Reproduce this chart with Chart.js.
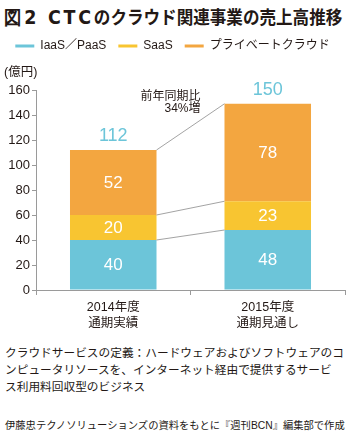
<!DOCTYPE html>
<html>
<head>
<meta charset="utf-8">
<script src="https://cdn.jsdelivr.net/npm/chart.js@4.4.0/dist/chart.umd.min.js"></script>
<style>
  body { margin: 0; background: #fff; }
  #page { position: relative; width: 350px; height: 438px; overflow: hidden;
          font-family: "Liberation Sans", "Noto Sans CJK JP", sans-serif; color: #231815; }
  #title { position: absolute; left: 4px; top: 3px; font-size: 18px; font-weight: bold; white-space: nowrap;
           font-family: "Noto Sans CJK JP", sans-serif; transform: scaleX(0.92); transform-origin: left top; }
  #title .lat { font-family: "DejaVu Sans", sans-serif; font-size: 19px; letter-spacing: 3px; }
  #box { position: absolute; left: 0; top: 28px; width: 350px; height: 312px; }
  .note { position: absolute; left: 5px; white-space: nowrap; }
  #def { top: 344px; font-size: 11.7px; line-height: 17px; }
  #src { top: 417px; font-size: 10.3px; }
</style>
</head>
<body>
<div id="page">
  <div id="title"><span class="lat">図2 CTC</span>のクラウド関連事業の売上高推移</div>
  <div id="box"><canvas id="chart"></canvas></div>
  <div class="note" id="def">クラウドサービスの定義：ハードウェアおよびソフトウェアのコ<br>ンピュータリソースを、インターネット経由で提供するサービ<br>ス利用料回収型のビジネス</div>
  <div class="note" id="src">伊藤忠テクノソリューションズの資料をもとに『週刊BCN』編集部で作成</div>
</div>
<script>
const years = [["2014年度", "通期実績"], ["2015年度", "通期見通し"]];
const seriesNames = ["IaaS／PaaS", "SaaS", "プライベートクラウド"];
const iaasPaas = [40, 48];
const saas = [20, 23];
const privateCloud = [52, 78];
const totals = [112, 150];
const growthNote = ["前年同期比", "34%増"];
const unitLabel = "(億円)";

const BLUE = "#6cc5d9";
const YELLOW = "#f8c531";
const ORANGE = "#f3a640";
const TEXT = "#231815";
const AXIS = "#9a9a9a";
const FONT = '"Liberation Sans", "Noto Sans CJK JP", sans-serif';

// legend box gets extra room underneath for the unit label
const legendGap = {
    id: "legendGap",
    afterInit(chart) {
        const lg = chart.legend;
        if (!lg || lg._gapPatched) return;
        const fit = lg.fit;
        lg.fit = function () {
            fit.call(this);
            this.height += 28;
        };
        lg._gapPatched = true;
    },
};

const overlay = {
    id: "overlay",
    afterDatasetsDraw(chart) {
        const ctx = chart.ctx;
        const y = chart.scales.y;
        const metas = chart.data.datasets.map((d, i) => chart.getDatasetMeta(i));
        ctx.save();

        // connectors between the two bars
        ctx.strokeStyle = "#8c8c8c";
        ctx.lineWidth = 0.8;
        metas.forEach((m) => {
            const a = m.data[0], b = m.data[1];
            ctx.beginPath();
            ctx.moveTo(a.x + a.width / 2, a.y);
            ctx.lineTo(b.x - b.width / 2, b.y);
            ctx.stroke();
        });

        // values inside segments
        ctx.fillStyle = "#fff";
        ctx.font = "17px " + FONT;
        ctx.textAlign = "center";
        ctx.textBaseline = "middle";
        metas.forEach((m, i) => {
            m.data.forEach((el, j) => {
                ctx.fillText(String(chart.data.datasets[i].data[j]), el.x, (el.y + el.base) / 2 + 1);
            });
        });

        // totals above the bars
        ctx.fillStyle = BLUE;
        ctx.font = "18px " + FONT;
        metas[2].data.forEach((el, j) => {
            ctx.fillText(String(totals[j]), el.x, el.y - 14);
        });

        // growth note
        const b = metas[2].data[1];
        const rx = b.x - b.width / 2 - 24;
        ctx.fillStyle = TEXT;
        ctx.font = "12px " + FONT;
        ctx.textAlign = "right";
        ctx.fillText(growthNote[0], rx, y.getPixelForValue(155));
        ctx.fillText(growthNote[1], rx, y.getPixelForValue(145));

        // unit
        ctx.textAlign = "left";
        ctx.font = "12.5px " + FONT;
        ctx.fillText(unitLabel, 4, y.getPixelForValue(174));
        ctx.restore();
    },
};

new Chart(document.getElementById("chart"), {
    type: "bar",
    data: {
        labels: years,
        datasets: [
            { label: seriesNames[0], data: iaasPaas, backgroundColor: BLUE },
            { label: seriesNames[1], data: saas, backgroundColor: YELLOW },
            { label: seriesNames[2], data: privateCloud, backgroundColor: ORANGE },
        ],
    },
    options: {
        responsive: true,
        maintainAspectRatio: false,
        animation: false,
        layout: { padding: { left: 0, right: 5, top: 0, bottom: 0 } },
        datasets: {
            bar: { borderWidth: 0, categoryPercentage: 1, barPercentage: 0.56 },
        },
        plugins: {
            legend: {
                position: "top",
                labels: {
                    boxWidth: 19,
                    boxHeight: 3,
                    padding: 12,
                    color: TEXT,
                    font: { family: FONT, size: 12 },
                },
            },
            tooltip: { enabled: false },
        },
        scales: {
            x: {
                stacked: true,
                grid: { drawOnChartArea: false, color: AXIS, tickLength: 5 },
                border: { color: AXIS },
                ticks: { color: TEXT, padding: 4, font: { family: FONT, size: 12.5, lineHeight: 1.3 } },
                afterFit: (s) => { s.height = 50; },
            },
            y: {
                stacked: true,
                min: 0,
                max: 160,
                ticks: { stepSize: 20, color: TEXT, padding: 2, font: { family: FONT, size: 13 } },
                grid: { drawOnChartArea: false, color: AXIS, tickLength: 4 },
                border: { color: AXIS },
                afterFit: (s) => { s.width = 36; },
            },
        },
    },
    plugins: [legendGap, overlay],
});
</script>
</body>
</html>
